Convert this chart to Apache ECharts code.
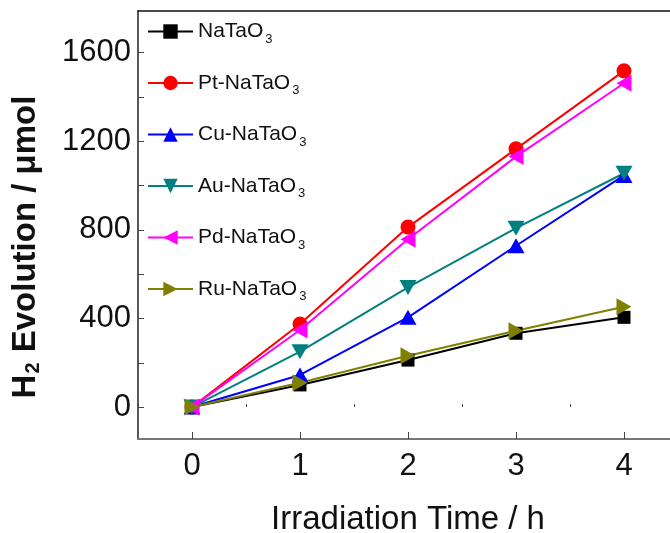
<!DOCTYPE html>
<html>
<head>
<meta charset="utf-8">
<script src="https://cdn.jsdelivr.net/npm/echarts@6/dist/echarts.min.js"></script>
<style>
  html, body { margin: 0; padding: 0; background: #fff; }
  #chart { width: 670px; height: 533px; }
</style>
</head>
<body>
<div id="chart"></div>
<script>
// data
const times = [0, 1, 2, 3, 4];
const seriesNames = ["NaTaO3", "Pt-NaTaO3", "Cu-NaTaO3", "Au-NaTaO3", "Pd-NaTaO3", "Ru-NaTaO3"];
const naTaO3 = [0, 100, 212, 333, 405];
const ptNaTaO3 = [0, 375, 812, 1165, 1517];
const cuNaTaO3 = [0, 145, 405, 728, 1045];
const auNaTaO3 = [0, 250, 540, 807, 1055];
const pdNaTaO3 = [0, 348, 757, 1130, 1461];
const ruNaTaO3 = [0, 110, 232, 344, 453];
const xTicks = [0, 1, 2, 3, 4];
const xMinorTicks = [-0.5, 0.5, 1.5, 2.5, 3.5, 4.5];
const yTicks = [0, 400, 800, 1200, 1600];
const yAllTicks = [0, 200, 400, 600, 800, 1000, 1200, 1400, 1600];

const values = [naTaO3, ptNaTaO3, cuNaTaO3, auNaTaO3, pdNaTaO3, ruNaTaO3];
const colors = ["#000000", "#ff0000", "#0000ff", "#008080", "#ff00ff", "#808000"];
const symbols = [
  "rect",
  "circle",
  "triangle",
  "path://M0,0 L20,0 L10,17 Z",
  "path://M17,0 L17,20 L0,10 Z",
  "path://M0,0 L17,10 L0,20 Z"
];
const symbolSizes = [13, 15, [17, 15], [17, 15], [15, 17], [15, 17]];

const FONT = "'Liberation Sans', Arial, sans-serif";

const chart = echarts.init(document.getElementById("chart"));

const option = {
  animation: false,
  backgroundColor: "#fff",
  grid: { left: 138, top: 11, width: 540, height: 428, containLabel: false, outerBoundsMode: "none" },
  legend: {
    orient: "vertical",
    left: 142,
    top: 16,
    itemWidth: 45,
    itemHeight: 18,
    itemGap: 27,
    data: seriesNames,
    textStyle: {
      fontFamily: FONT,
      fontSize: 21,
      color: "#111",
      rich: {
        sub: { fontFamily: FONT, fontSize: 13, color: "#111", padding: [15, 0, 0, 2] }
      }
    },
    formatter: (name) => name.replace(/3$/, "{sub|3}")
  },
  xAxis: [
    {
      type: "value",
      min: -0.5,
      max: 4.5,
      position: "bottom",
      name: "Irradiation Time / h",
      nameLocation: "middle",
      nameGap: 64,
      nameTextStyle: { fontFamily: FONT, fontSize: 33, color: "#111" },
      axisLine: { show: true, onZero: false, lineStyle: { color: "#777", width: 2 } },
      axisTick: { show: true, inside: true, length: 7, customValues: xTicks, lineStyle: { color: "#444", width: 1 } },
      axisLabel: { customValues: xTicks, margin: 12, fontFamily: FONT, fontSize: 31, color: "#111" },
      splitLine: { show: false }
    },
    {
      type: "value",
      min: -0.5,
      max: 4.5,
      position: "bottom",
      offset: 0,
      axisLine: { show: false },
      axisTick: { show: true, inside: true, length: 3, customValues: xMinorTicks, lineStyle: { color: "#444", width: 1 } },
      axisLabel: { show: false },
      splitLine: { show: false }
    },
    {
      type: "value",
      min: -0.5,
      max: 4.5,
      position: "top",
      axisLine: { show: true, onZero: false, lineStyle: { color: "#111", width: 1.5 } },
      axisTick: { show: false },
      axisLabel: { show: false },
      splitLine: { show: false }
    }
  ],
  yAxis: {
    type: "value",
    min: -144,
    max: 1787,
    name: "{b|H}{s|2}{b| Evolution / μmol}",
    nameLocation: "middle",
    nameGap: 95,
    nameRotate: 90,
    nameTextStyle: {
      padding: [0, 44, 0, 0],
      rich: {
        b: { fontFamily: FONT, fontSize: 33, fontWeight: "bold", color: "#111" },
        s: { fontFamily: FONT, fontSize: 20, fontWeight: "bold", color: "#111", padding: [15, 1, 0, 1] }
      }
    },
    axisLine: { show: true, onZero: false, lineStyle: { color: "#222", width: 1.5 } },
    axisTick: { show: true, inside: true, length: 6, customValues: yAllTicks, lineStyle: { color: "#444", width: 1 } },
    axisLabel: {
      customValues: yTicks,
      margin: 7,
      fontFamily: FONT,
      fontSize: 31,
      color: "#111",
      formatter: (v) => String(v)
    },
    splitLine: { show: false }
  },
  series: seriesNames.map((name, i) => ({
    name: name,
    type: "line",
    xAxisIndex: 0,
    data: times.map((t, j) => [t, values[i][j]]),
    symbol: symbols[i],
    symbolSize: symbolSizes[i],
    showAllSymbol: true,
    lineStyle: { color: colors[i], width: 2 },
    itemStyle: { color: colors[i], borderWidth: 0 },
    emphasis: { disabled: true }
  }))
};

chart.setOption(option);
</script>
</body>
</html>
